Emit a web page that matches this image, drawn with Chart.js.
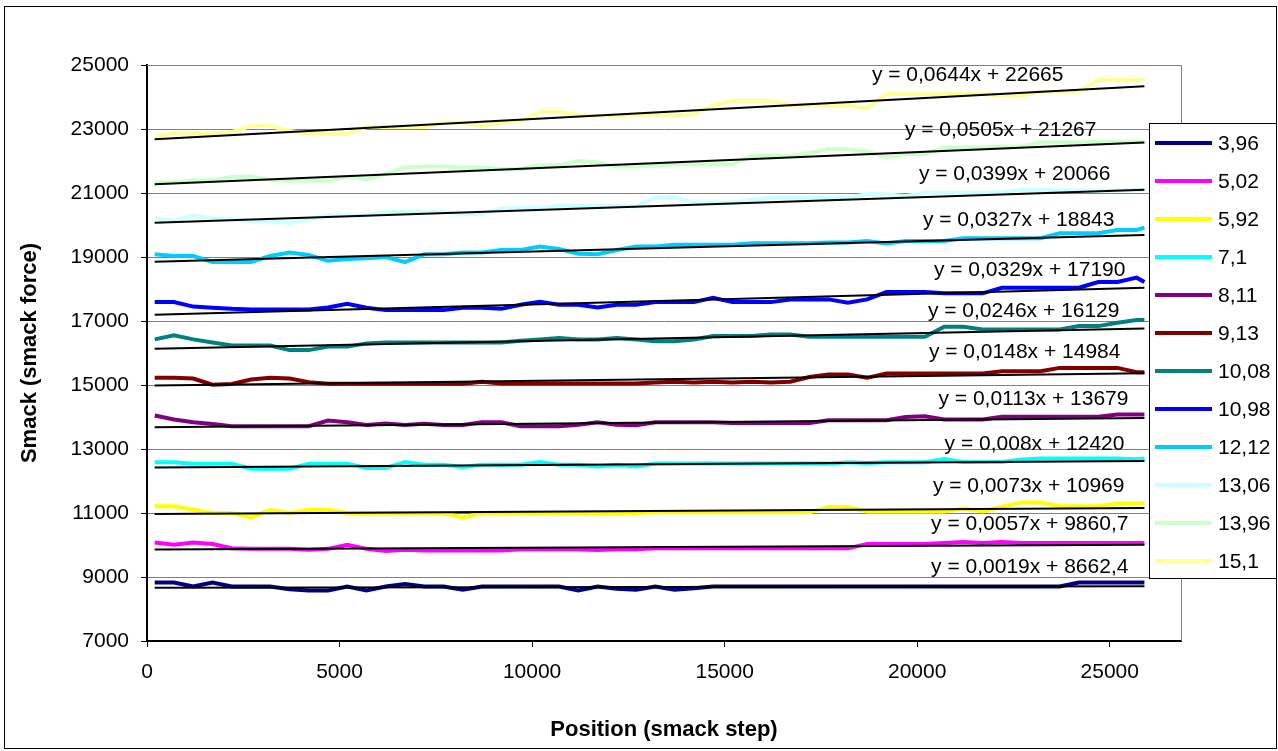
<!DOCTYPE html>
<html>
<head>
<meta charset="utf-8">
<title>Smack force vs position</title>
<script src="https://cdn.jsdelivr.net/npm/chart.js@4.4.1/dist/chart.umd.min.js"></script>
<style>
  html, body { margin: 0; padding: 0; background: #fff; }
  #wrap { position: relative; width: 1278px; height: 751px; }
</style>
</head>
<body>
<div id="wrap"><canvas id="myChart"></canvas></div>
<script>
// position (smack step) where each reading was taken
const positions = [
  200, 700, 1200, 1700, 2200, 2700, 3200, 3700, 4200, 4700,
  5200, 5700, 6200, 6700, 7200, 7700, 8200, 8700, 9200, 9700,
  10200, 10700, 11200, 11700, 12200, 12700, 13200, 13700, 14200, 14700,
  15200, 15700, 16200, 16700, 17200, 17700, 18200, 18700, 19200, 19700,
  20200, 20700, 21200, 21700, 22200, 22700, 23200, 23700, 24200, 24700,
  25200, 25700, 25900,
];
const xTicks = [0, 5000, 10000, 15000, 20000, 25000];

const names = ["3,96", "5,02", "5,92", "7,1", "8,11", "9,13", "10,08", "10,98", "12,12", "13,06", "13,96", "15,1"];
const colors = ["#000080", "#FF00FF", "#FFFF00", "#00FFFF", "#800080", "#800000", "#008080", "#0000FF", "#00CCFF", "#CCFFFF", "#CCFFCC", "#FFFF99"];

const s396 = [
  8830, 8830, 8705, 8830, 8705, 8705, 8705, 8620, 8580, 8580,
  8705, 8580, 8705, 8780, 8705, 8705, 8600, 8705, 8705, 8705,
  8705, 8705, 8580, 8705, 8630, 8600, 8705, 8600, 8650, 8705,
  8705, 8705, 8705, 8705, 8705, 8705, 8705, 8705, 8705, 8705,
  8705, 8705, 8705, 8705, 8705, 8705, 8705, 8705, 8830, 8830,
  8830, 8830, 8830,
];
const s502 = [
  10080, 10010, 10080, 10030, 9900, 9880, 9880, 9880, 9850, 9880,
  10010, 9880, 9815, 9850, 9830, 9830, 9830, 9830, 9830, 9870,
  9870, 9870, 9870, 9840, 9870, 9870, 9895, 9895, 9895, 9895,
  9895, 9895, 9895, 9895, 9895, 9895, 9895, 10035, 10035, 10035,
  10035, 10060, 10090, 10060, 10090, 10060, 10060, 10060, 10060, 10060,
  10060, 10060, 10060,
];
const s592 = [
  11210, 11210, 11100, 11000, 11000, 10860, 11100, 11000, 11100, 11100,
  11000, 11000, 11000, 11000, 11000, 11000, 10860, 11000, 11000, 11000,
  11000, 11000, 11000, 11000, 11000, 11000, 11020, 11020, 11020, 11020,
  11020, 11020, 11020, 11020, 11020, 11185, 11185, 11050, 11050, 11050,
  11050, 11050, 11150, 11050, 11200, 11330, 11330, 11210, 11210, 11210,
  11300, 11300, 11300,
];
const s71 = [
  12585, 12585, 12540, 12540, 12540, 12385, 12385, 12385, 12540, 12540,
  12540, 12410, 12410, 12595, 12505, 12505, 12440, 12505, 12505, 12505,
  12595, 12505, 12505, 12450, 12505, 12450, 12543, 12543, 12543, 12543,
  12543, 12543, 12543, 12543, 12543, 12543, 12585, 12560, 12585, 12585,
  12585, 12690, 12595, 12595, 12595, 12670, 12700, 12700, 12700, 12700,
  12700, 12680, 12700,
];
const s811 = [
  14045, 13920, 13835, 13780, 13710, 13710, 13710, 13710, 13710, 13890,
  13835, 13750, 13800, 13750, 13790, 13750, 13750, 13835, 13835, 13710,
  13710, 13710, 13760, 13835, 13760, 13740, 13835, 13835, 13835, 13835,
  13815, 13815, 13815, 13815, 13815, 13900, 13900, 13900, 13900, 14000,
  14025, 13920, 13920, 13920, 14005, 14005, 14005, 14005, 14005, 14005,
  14075, 14075, 14075,
];
const s913 = [
  15225, 15225, 15200, 15010, 15030, 15170, 15225, 15200, 15090, 15040,
  15040, 15040, 15040, 15040, 15040, 15040, 15040, 15100, 15050, 15050,
  15050, 15050, 15050, 15050, 15050, 15050, 15080, 15100, 15080, 15100,
  15080, 15100, 15080, 15100, 15250, 15328, 15328, 15224, 15360, 15360,
  15360, 15360, 15360, 15360, 15430, 15430, 15430, 15535, 15535, 15535,
  15535, 15400, 15400,
];
const s1008 = [
  16425, 16550, 16425, 16330, 16235, 16235, 16235, 16090, 16090, 16200,
  16200, 16300, 16330, 16330, 16330, 16330, 16330, 16330, 16330, 16380,
  16425, 16470, 16425, 16425, 16470, 16425, 16370, 16370, 16424, 16530,
  16530, 16530, 16580, 16580, 16510, 16510, 16510, 16510, 16510, 16510,
  16510, 16820, 16820, 16735, 16735, 16735, 16735, 16735, 16840, 16840,
  16945, 17030, 17030,
];
const s1098 = [
  17590, 17590, 17450, 17415, 17380, 17360, 17360, 17360, 17360, 17420,
  17540, 17415, 17340, 17340, 17340, 17340, 17415, 17415, 17380, 17510,
  17600, 17510, 17510, 17420, 17510, 17510, 17590, 17590, 17590, 17725,
  17590, 17590, 17590, 17675, 17675, 17675, 17570, 17675, 17905, 17905,
  17905, 17865, 17865, 17865, 18040, 18040, 18040, 18040, 18040, 18220,
  18220, 18355, 18220,
];
const s1212 = [
  19085, 19030, 19030, 18845, 18845, 18845, 19030, 19140, 19060, 18880,
  18935, 18960, 19000, 18840, 19085, 19085, 19140, 19140, 19220, 19220,
  19330, 19250, 19100, 19085, 19220, 19330, 19330, 19380, 19380, 19380,
  19380, 19430, 19430, 19430, 19430, 19450, 19450, 19500, 19420, 19500,
  19500, 19500, 19585, 19585, 19585, 19585, 19585, 19740, 19740, 19740,
  19845, 19845, 19920,
];
const s1306 = [
  20200, 20120, 20300, 20210, 20180, 20120, 20120, 20060, 20180, 20300,
  20300, 20300, 20410, 20410, 20410, 20410, 20340, 20340, 20525, 20525,
  20525, 20600, 20600, 20600, 20600, 20580, 20860, 20860, 20700, 20700,
  20700, 20780, 20860, 20860, 20860, 20860, 20860, 20960, 20960, 20900,
  21015, 21015, 21015, 21015, 21015, 21100, 21100, 21080, 21080, 21080,
  21080, 21090, 21100,
];
const s1396 = [
  21330, 21330, 21400, 21410, 21500, 21515, 21410, 21380, 21380, 21380,
  21515, 21420, 21600, 21800, 21830, 21830, 21800, 21800, 21745, 21745,
  21870, 21870, 22000, 21950, 21830, 21830, 21850, 21900, 21900, 21900,
  21900, 22160, 22160, 22160, 22250, 22370, 22370, 22300, 22110, 22215,
  22215, 22425, 22425, 22425, 22455, 22455, 22580, 22580, 22580, 22600,
  22600, 22600, 22600,
];
const s151 = [
  22750, 22870, 22870, 22870, 22900, 23100, 23100, 22940, 22850, 22840,
  22840, 23060, 23060, 23060, 23060, 23200, 23200, 23100, 23200, 23250,
  23530, 23530, 23420, 23420, 23420, 23450, 23460, 23430, 23460, 23750,
  23880, 23880, 23880, 23760, 23760, 23745, 23760, 23645, 24090, 24090,
  24090, 24090, 24090, 24090, 24040, 24040, 24165, 24165, 24180, 24530,
  24530, 24530, 24550,
];
const series = [s396, s502, s592, s71, s811, s913, s1008, s1098, s1212, s1306, s1396, s151];

// linear trendlines as printed on the chart
const slopes = [0.0019, 0.0057, 0.0073, 0.008, 0.0113, 0.0148, 0.0246, 0.0329, 0.0327, 0.0399, 0.0505, 0.0644];
const intercepts = [8662.4, 9860.7, 10969, 12420, 13679, 14984, 16129, 17190, 18843, 20066, 21267, 22665];

// where each equation label sits, in px left of / above the trendline end
const labelDx = [16, 16, 20, 20, 16, 24, 25, 19, 30, 34, 48, 81];
const labelDy = [19.5, 20.7, 21.9, 16.6, 19, 20.6, 16.8, 17.7, 14.9, 15.5, 12.6, 10.8];

const FONT = "'Liberation Sans', Arial, sans-serif";

function toPoints(values) {
  return positions.map((x, i) => ({ x: x, y: values[i] }));
}

function trendPoints(i) {
  const x0 = positions[0];
  const x1 = positions[positions.length - 1];
  return [
    { x: x0, y: slopes[i] * x0 + intercepts[i] },
    { x: x1, y: slopes[i] * x1 + intercepts[i] },
  ];
}

function equation(i) {
  return "y = " + String(slopes[i]).replace(".", ",") + "x + " + String(intercepts[i]).replace(".", ",");
}

const datasets = [];
series.forEach((values, i) => {
  datasets.push({
    label: names[i],
    data: toPoints(values),
    borderColor: colors[i],
    backgroundColor: colors[i],
    borderWidth: 4,
    pointRadius: 0,
    tension: 0,
    order: 0,
  });
});
series.forEach((values, i) => {
  datasets.push({
    label: "trend " + names[i],
    data: trendPoints(i),
    borderColor: "#000",
    borderWidth: 2,
    pointRadius: 0,
    order: -1,
  });
});

const framePlugin = {
  id: "frame",
  beforeDraw(chart) {
    const ctx = chart.ctx;
    ctx.save();
    ctx.fillStyle = "#fff";
    ctx.fillRect(0, 0, chart.width, chart.height);
    ctx.strokeStyle = "#000";
    ctx.lineWidth = 1;
    ctx.strokeRect(4.5, 6.5, 1272, 742);
    ctx.restore();
  },
  beforeDatasetsDraw(chart) {
    const { ctx, chartArea } = chart;
    ctx.save();
    ctx.strokeStyle = "#808080";
    ctx.lineWidth = 1;
    ctx.beginPath();
    ctx.moveTo(chartArea.left, chartArea.top + 0.5);
    ctx.lineTo(chartArea.right + 0.5, chartArea.top + 0.5);
    ctx.lineTo(chartArea.right + 0.5, chartArea.bottom);
    ctx.stroke();
    ctx.restore();
  },
  afterDatasetsDraw(chart) {
    const ctx = chart.ctx;
    const xs = chart.scales.x;
    const ys = chart.scales.y;
    const xEnd = positions[positions.length - 1];
    ctx.save();
    ctx.font = "21px " + FONT;
    ctx.fillStyle = "#000";
    ctx.textAlign = "right";
    ctx.textBaseline = "middle";
    slopes.forEach((m, i) => {
      const px = xs.getPixelForValue(xEnd);
      const py = ys.getPixelForValue(m * xEnd + intercepts[i]);
      ctx.fillText(equation(i), px - labelDx[i], py - labelDy[i]);
    });
    ctx.restore();
  },
  afterDraw(chart) {
    // legend box, overlapping the right side of the plot as in the original
    const ctx = chart.ctx;
    ctx.save();
    ctx.fillStyle = "#fff";
    ctx.fillRect(1149, 123, 128, 456);
    ctx.strokeStyle = "#000";
    ctx.lineWidth = 1;
    ctx.strokeRect(1149.5, 123.5, 127, 455);
    ctx.font = "21px " + FONT;
    ctx.textAlign = "left";
    ctx.textBaseline = "middle";
    names.forEach((name, i) => {
      const y = 143 + i * 38;
      ctx.strokeStyle = colors[i];
      ctx.lineWidth = 4;
      ctx.beginPath();
      ctx.moveTo(1155, y);
      ctx.lineTo(1212, y);
      ctx.stroke();
      ctx.fillStyle = "#000";
      ctx.fillText(name, 1218, y + 1);
    });
    ctx.restore();
  },
};

new Chart(document.getElementById("myChart"), {
  type: "line",
  data: { datasets: datasets },
  options: {
    responsive: true,
    maintainAspectRatio: false,
    animation: false,
    events: [],
    layout: { padding: { left: 0, top: 65, right: 97, bottom: 0 } },
    plugins: {
      legend: { display: false },
      tooltip: { enabled: false },
    },
    scales: {
      x: {
        type: "linear",
        min: 0,
        max: 26850,
        afterFit: (s) => { s.height = 110; },
        afterBuildTicks: (s) => { s.ticks = xTicks.map((v) => ({ value: v })); },
        ticks: {
          maxRotation: 0,
          autoSkip: false,
          padding: 13,
          color: "#000",
          font: { family: FONT, size: 21 },
          callback: (v) => String(v),
        },
        grid: { drawOnChartArea: false, tickLength: 6, color: "#000" },
        border: { color: "#000", width: 2 },
        title: {
          display: true,
          text: "Position (smack step)",
          color: "#000",
          font: { family: FONT, size: 22, weight: "bold" },
          padding: { top: 0, bottom: 8 },
        },
      },
      y: {
        min: 7000,
        max: 25000,
        afterFit: (s) => { s.width = 147; },
        ticks: {
          stepSize: 2000,
          padding: 12,
          color: "#000",
          font: { family: FONT, size: 21 },
          callback: (v) => String(v),
        },
        grid: { color: "#808080", lineWidth: 1, tickLength: 6, tickColor: "#000" },
        border: { color: "#000", width: 2 },
        title: {
          display: true,
          text: "Smack (smack force)",
          color: "#000",
          font: { family: FONT, size: 22, weight: "bold" },
          padding: { top: 17, bottom: 0 },
        },
      },
    },
  },
  plugins: [framePlugin],
});
</script>
</body>
</html>
